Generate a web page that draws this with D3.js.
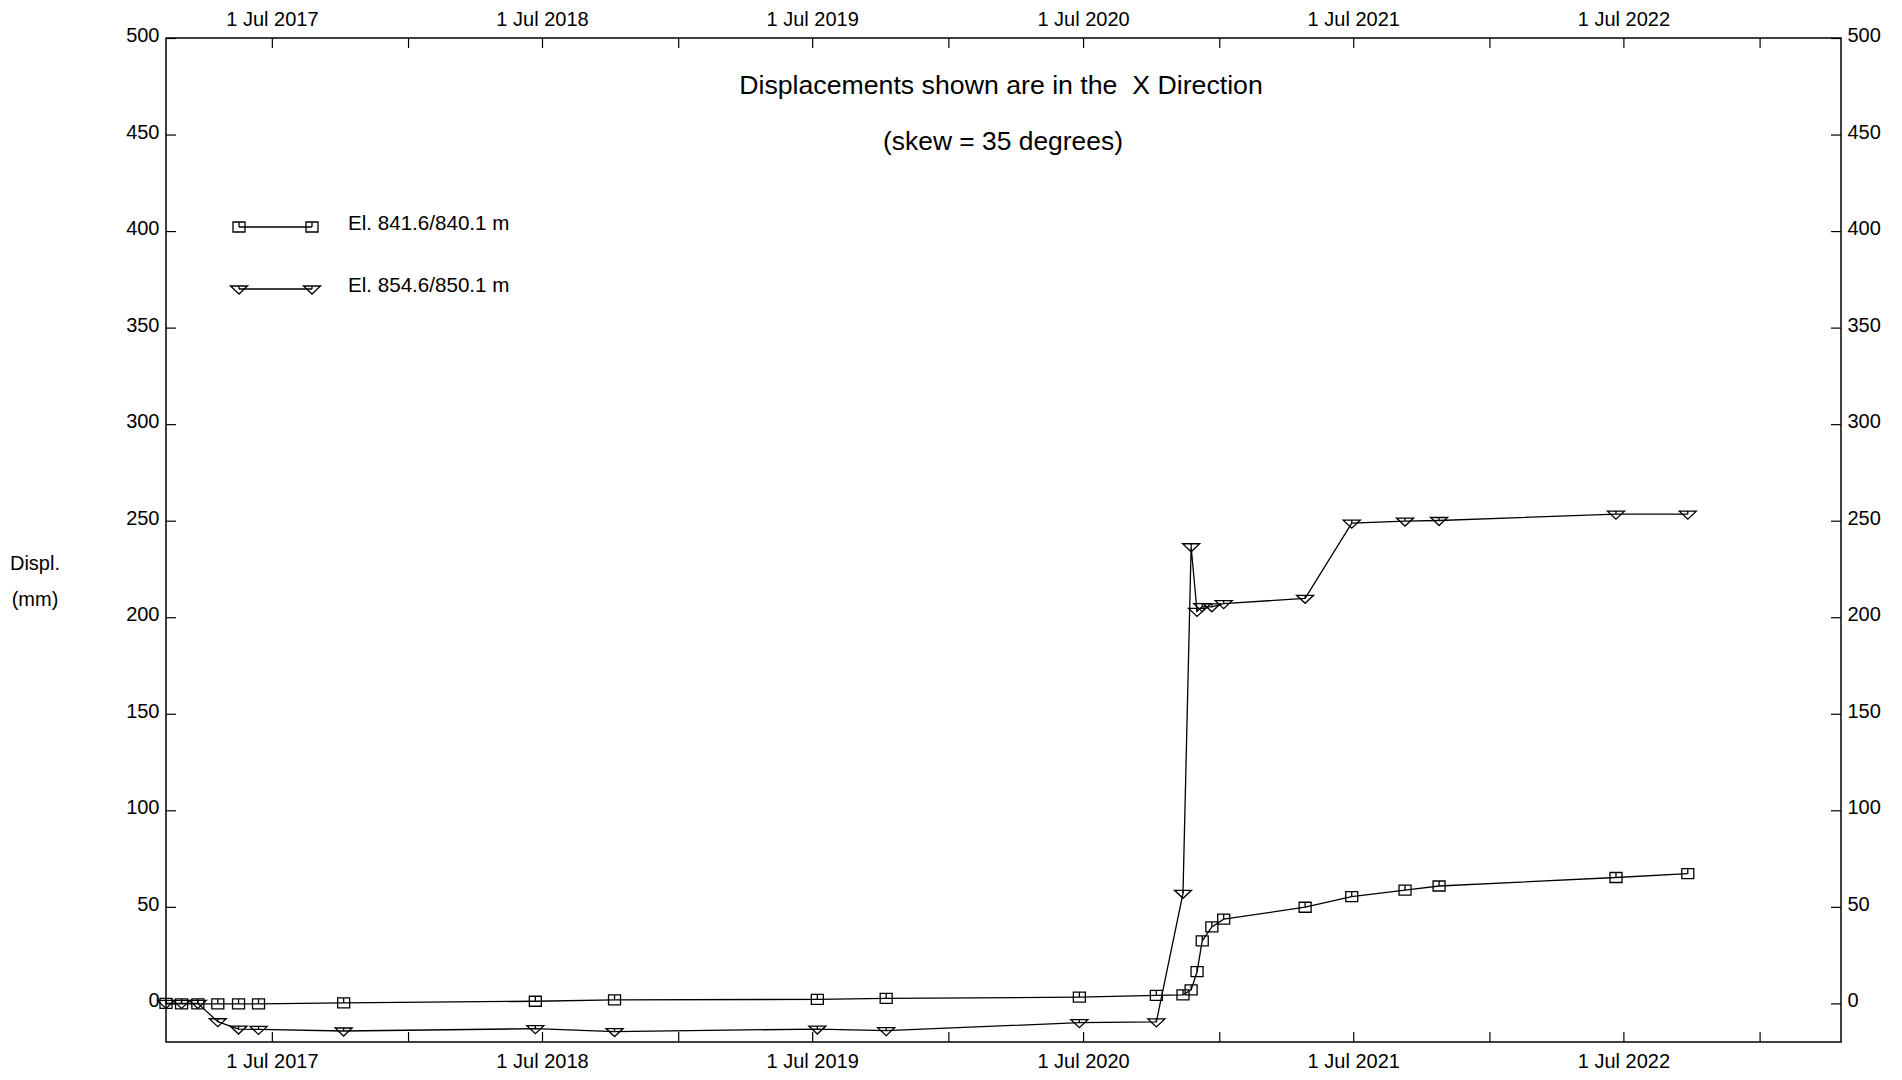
<!DOCTYPE html>
<html>
<head>
<meta charset="utf-8">
<script src="https://cdn.jsdelivr.net/npm/d3@7"></script>
<style>
  body { margin: 0; background: #fff; }
  svg text { font-family: "Liberation Sans", Arial, Helvetica, sans-serif; fill: #000; }
</style>
</head>
<body>
<svg id="chart" width="1902" height="1080"></svg>
<script>
// reading dates (same for both gauges)
const readDates = [
  '2017-02-08', '2017-03-01', '2017-03-23', '2017-04-19', '2017-05-17', '2017-06-13',
  '2017-10-06', '2018-06-22', '2018-10-07', '2019-07-08', '2019-10-09', '2020-06-26',
  '2020-10-08', '2020-11-13', '2020-11-24', '2020-12-02', '2020-12-09', '2020-12-22',
  '2021-01-07', '2021-04-27', '2021-06-29', '2021-09-09', '2021-10-25', '2022-06-21',
  '2022-09-26'
];
// displacement (mm), El. 841.6/840.1 m
const elev841 = [
  0, -0.3, -0.3, -0.3, -0.3, -0.3,
  0.3, 1.1, 1.8, 2.1, 2.6, 3.2,
  4.2, 4.4, 7.0, 16.4, 32.4, 39.6,
  43.6, 49.8, 55.3, 58.7, 60.8, 65.2,
  67.2
];
// displacement (mm), El. 854.6/850.1 m
const elev854 = [
  0, 0, 0, -9.5, -13.3, -13.5,
  -14.3, -13.1, -14.6, -13.3, -14.1, -10.0,
  -9.6, 57, 236.5, 203, 205.5, 205.4,
  207, 209.8, 248.7, 249.8, 250.1, 253.4,
  253.4
];
const seriesNames = ['El. 841.6/840.1 m', 'El. 854.6/850.1 m'];
const yTickValues = [0, 50, 100, 150, 200, 250, 300, 350, 400, 450, 500];
const xDomain = ['2017-02-08', '2023-04-21'];
const yDomain = [-20, 500];

const parse = d3.timeParse('%Y-%m-%d');
const plotLeft = 166, plotRight = 1841, plotTop = 38, plotBottom = 1042;

const svg = d3.select('#chart');

const x = d3.scaleTime()
  .domain(xDomain.map(parse))
  .range([plotLeft, plotRight]);

const y = d3.scaleLinear()
  .domain(yDomain)
  .range([plotBottom, plotTop]);

const julyFmt = d3.timeFormat('%-d %b %Y');
const xTicks = x.ticks(d3.timeMonth.every(6));
const xLabel = d => d.getMonth() === 6 ? julyFmt(d) : '';

// axes, ticks pointing inward
const gBottom = svg.append('g')
  .attr('transform', `translate(0,${plotBottom})`)
  .call(d3.axisBottom(x).tickValues(xTicks).tickFormat(xLabel)
    .tickSizeInner(-10).tickSizeOuter(0).tickPadding(12));

const gTop = svg.append('g')
  .attr('transform', `translate(0,${plotTop})`)
  .call(d3.axisTop(x).tickValues(xTicks).tickFormat(xLabel)
    .tickSizeInner(-10).tickSizeOuter(0).tickPadding(12));

const gLeft = svg.append('g')
  .attr('transform', `translate(${plotLeft},0)`)
  .call(d3.axisLeft(y).tickValues(yTickValues)
    .tickSizeInner(-10).tickSizeOuter(0).tickPadding(6.5));

const gRight = svg.append('g')
  .attr('transform', `translate(${plotRight},0)`)
  .call(d3.axisRight(y).tickValues(yTickValues)
    .tickSizeInner(-10).tickSizeOuter(0).tickPadding(6.5));

[gBottom, gTop, gLeft, gRight].forEach(g => {
  g.select('.domain').remove();
  g.selectAll('line').attr('stroke', '#000').attr('stroke-width', 1.2);
  g.selectAll('text').attr('font-size', 20).attr('font-family', null).attr('fill', '#000');
});
gLeft.selectAll('text').attr('dy', '0.18em');
gRight.selectAll('text').attr('dy', '0.18em');

// frame
svg.append('rect')
  .attr('x', plotLeft).attr('y', plotTop)
  .attr('width', plotRight - plotLeft).attr('height', plotBottom - plotTop)
  .attr('fill', 'none').attr('stroke', '#000').attr('stroke-width', 1.5);

// titles
svg.append('text')
  .attr('x', 1001).attr('y', 94)
  .attr('text-anchor', 'middle').attr('font-size', 26.7)
  .attr('xml:space', 'preserve').style('white-space', 'pre')
  .text('Displacements shown are in the  X Direction');

svg.append('text')
  .attr('x', 1003).attr('y', 150)
  .attr('text-anchor', 'middle').attr('font-size', 26.4)
  .text('(skew = 35 degrees)');

svg.append('text')
  .attr('x', 35).attr('y', 570)
  .attr('text-anchor', 'middle').attr('font-size', 20)
  .text('Displ.');

svg.append('text')
  .attr('x', 35).attr('y', 606)
  .attr('text-anchor', 'middle').attr('font-size', 20)
  .text('(mm)');

// markers
const squarePath = 'M-6,-5h12v10h-12Z M0,-5V0';
const trianglePath = 'M-8.5,-3h17L0,5Z M0,-3V0';
const markerPaths = [squarePath, trianglePath];

const line = d3.line()
  .x(d => x(d.date))
  .y(d => y(d.value));

[elev841, elev854].forEach((vals, i) => {
  const data = readDates.map((d, j) => ({ date: parse(d), value: vals[j] }));

  svg.append('path')
    .datum(data)
    .attr('d', line)
    .attr('fill', 'none')
    .attr('stroke', '#000')
    .attr('stroke-width', 1.3);

  svg.selectAll('.m' + i)
    .data(data)
    .enter().append('path')
    .attr('class', 'm' + i)
    .attr('transform', d => `translate(${x(d.date)},${y(d.value)})`)
    .attr('d', markerPaths[i])
    .attr('fill', 'none')
    .attr('stroke', '#000')
    .attr('stroke-width', 1.3);
});

// legend
const legend = svg.append('g');
seriesNames.forEach((name, i) => {
  const ly = 227 + i * 62;
  legend.append('line')
    .attr('x1', 239).attr('x2', 312)
    .attr('y1', ly).attr('y2', ly)
    .attr('stroke', '#000').attr('stroke-width', 1.3);
  [239, 312].forEach(lx => {
    legend.append('path')
      .attr('transform', `translate(${lx},${ly})`)
      .attr('d', markerPaths[i])
      .attr('fill', 'none')
      .attr('stroke', '#000')
      .attr('stroke-width', 1.3);
  });
  legend.append('text')
    .attr('x', 348).attr('y', ly + 3)
    .attr('font-size', 20.6)
    .text(name);
});
</script>
</body>
</html>
